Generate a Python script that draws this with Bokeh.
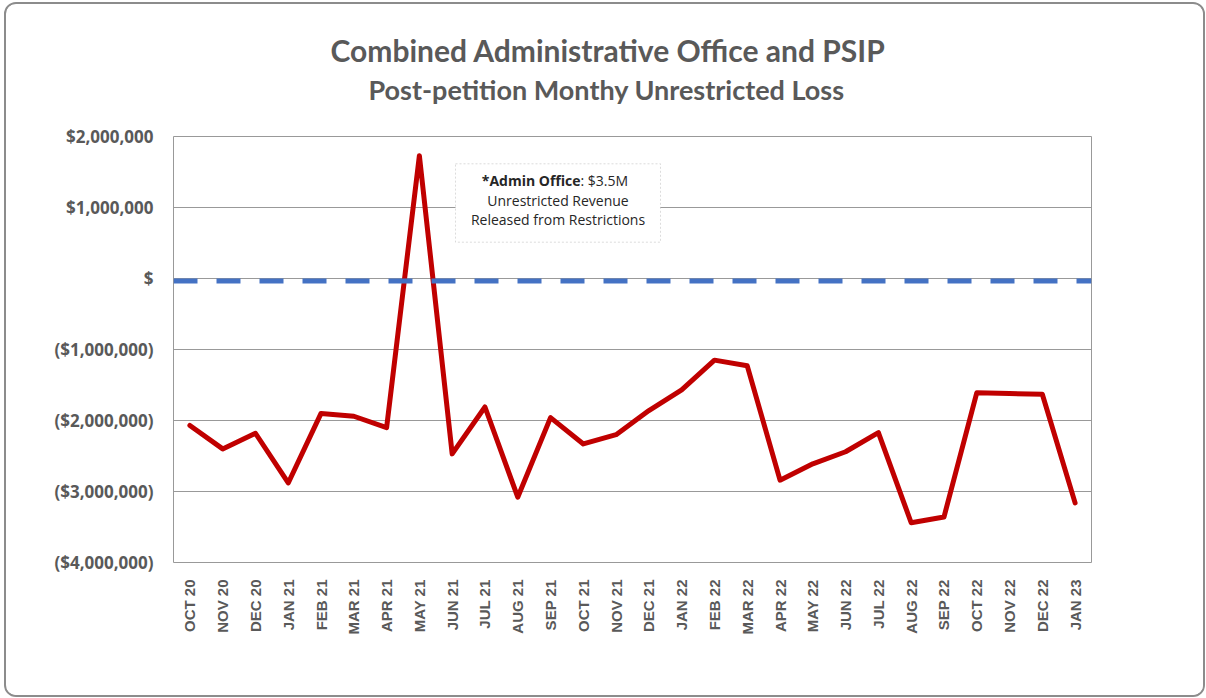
import math
from bokeh.plotting import figure
from bokeh.models import (ColumnDataSource, FixedTicker, Span, BoxAnnotation,
                          Label, Range1d, Title)
from bokeh.embed import file_html
from bokeh.resources import INLINE

# ---------------- data ----------------
months = ["OCT 20", "NOV 20", "DEC 20", "JAN 21", "FEB 21", "MAR 21", "APR 21",
          "MAY 21", "JUN 21", "JUL 21", "AUG 21", "SEP 21", "OCT 21", "NOV 21",
          "DEC 21", "JAN 22", "FEB 22", "MAR 22", "APR 22", "MAY 22", "JUN 22",
          "JUL 22", "AUG 22", "SEP 22", "OCT 22", "NOV 22", "DEC 22", "JAN 23"]
loss = [-2070000, -2400000, -2180000, -2880000, -1900000, -1940000, -2100000,
        1730000, -2470000, -1810000, -3080000, -1960000, -2330000, -2200000,
        -1860000, -1570000, -1150000, -1230000, -2840000, -2610000, -2440000,
        -2170000, -3440000, -3360000, -1610000, -1620000, -1630000, -3160000]
zero_line = -35000
y_ticks = [2000000, 1000000, 0, -1000000, -2000000, -3000000, -4000000]
y_tick_labels = ["$2,000,000", "$1,000,000", "$", "($1,000,000)",
                 "($2,000,000)", "($3,000,000)", "($4,000,000)"]
title_text = "Combined Administrative Office and PSIP"
subtitle_text = "Post-petition Monthy Unrestricted Loss"
note_bold = "*Admin Office"
note_rest = ": $3.5M"
note_line2 = "Unrestricted Revenue"
note_line3 = "Released from Restrictions"

# ---------------- layout helpers (page px -> data) ----------------
OX, OY = 6, 4            # page position of canvas origin (margin + border)
FL, FR, FT, FB = 173.0, 1091.0, 136.0, 562.0
W, H = 1201, 695
YMAX, YMIN = 2000000, -4000000
n = len(months)
step = (FR - FL) / n
ppy = (FB - FT) / (YMAX - YMIN)


def dx(px):
    return (px - FL) / step - 0.5


def dy(py):
    return YMAX - (py - FT) / ppy


src = ColumnDataSource(dict(x=list(range(n)), y=loss))

p = figure(width=W, height=H, output_backend="svg", toolbar_location=None,
           x_range=Range1d(-0.5, n - 0.5), y_range=Range1d(YMIN, YMAX),
           min_border_left=int(FL - OX), min_border_right=int(W - (FR - OX)),
           min_border_top=int(FT - OY), min_border_bottom=int(H - (FB - OY)),
           background_fill_color="white", border_fill_color="white")
p.margin = (2, 0, 0, 4)
p.styles = {"border": "2px solid #8c8c8c", "border-radius": "12px",
            "box-sizing": "border-box", "overflow": "hidden"}

p.outline_line_color = "#999999"
p.outline_line_width = 1
p.xgrid.visible = False
p.ygrid.ticker = FixedTicker(ticks=y_ticks)
p.ygrid.grid_line_color = "#999999"
p.ygrid.grid_line_width = 1

# axes
p.xaxis.ticker = FixedTicker(ticks=list(range(n)))
p.xaxis.major_label_overrides = {i: m for i, m in enumerate(months)}
p.xaxis.major_label_orientation = math.pi / 2
p.xaxis.major_label_text_font = "Liberation Sans"
p.xaxis.major_label_text_font_style = "bold"
p.xaxis.major_label_text_font_size = "15px"
p.xaxis.major_label_text_color = "#595959"
p.xaxis.major_label_standoff = 11
p.yaxis.ticker = FixedTicker(ticks=y_ticks)
p.yaxis.major_label_overrides = {t: l for t, l in zip(y_ticks, y_tick_labels)}
p.yaxis.major_label_text_font = "Open Sans"
p.yaxis.major_label_text_font_style = "bold"
p.yaxis.major_label_text_font_size = "17px"
p.yaxis.major_label_text_color = "#595959"
p.yaxis.major_label_standoff = 14
for ax in (p.xaxis, p.yaxis):
    ax.axis_line_color = None
    ax.major_tick_line_color = None
    ax.minor_tick_line_color = None

# zero reference dashed line
p.add_layout(Span(location=zero_line, dimension="width", line_color="#4472C4",
                  line_width=5, line_dash="24 19"))

# main series
p.line("x", "y", source=src, line_color="#C00000", line_width=5,
       line_join="round", line_cap="round")

# annotation box
p.add_layout(BoxAnnotation(left=dx(455), right=dx(660), top=dy(163.3), bottom=dy(241.7),
                           fill_color="white", fill_alpha=1.0,
                           line_color="#8c8c8c", line_width=1, line_dash="2 2"))
common = dict(text_font="Open Sans", text_font_size="14px", text_color="#262626",
              text_baseline="middle")
p.add_layout(Label(x=dx(580), y=dy(180), text=note_bold, text_align="right",
                   text_font_style="bold", **common))
p.add_layout(Label(x=dx(580), y=dy(180), text=note_rest, text_align="left", **common))
p.add_layout(Label(x=dx(557.5), y=dy(200), text=note_line2, text_align="center", **common))
p.add_layout(Label(x=dx(557.5), y=dy(219), text=note_line3, text_align="center", **common))

# titles (added nearest-first): spacer, subtitle, title
p.add_layout(Title(text=" ", standoff=17, text_font="Lato", text_font_size="10px"), "above")
p.add_layout(Title(text=subtitle_text, align="left", offset=195, standoff=0,
                   text_font="Lato", text_font_style="bold",
                   text_font_size="27px", text_color="#595959"), "above")
p.add_layout(Title(text=title_text, align="left", offset=157, standoff=6,
                   text_font="Lato", text_font_style="bold",
                   text_font_size="30px", text_color="#595959"), "above")

open("out.html", "w").write(file_html(p, INLINE))
